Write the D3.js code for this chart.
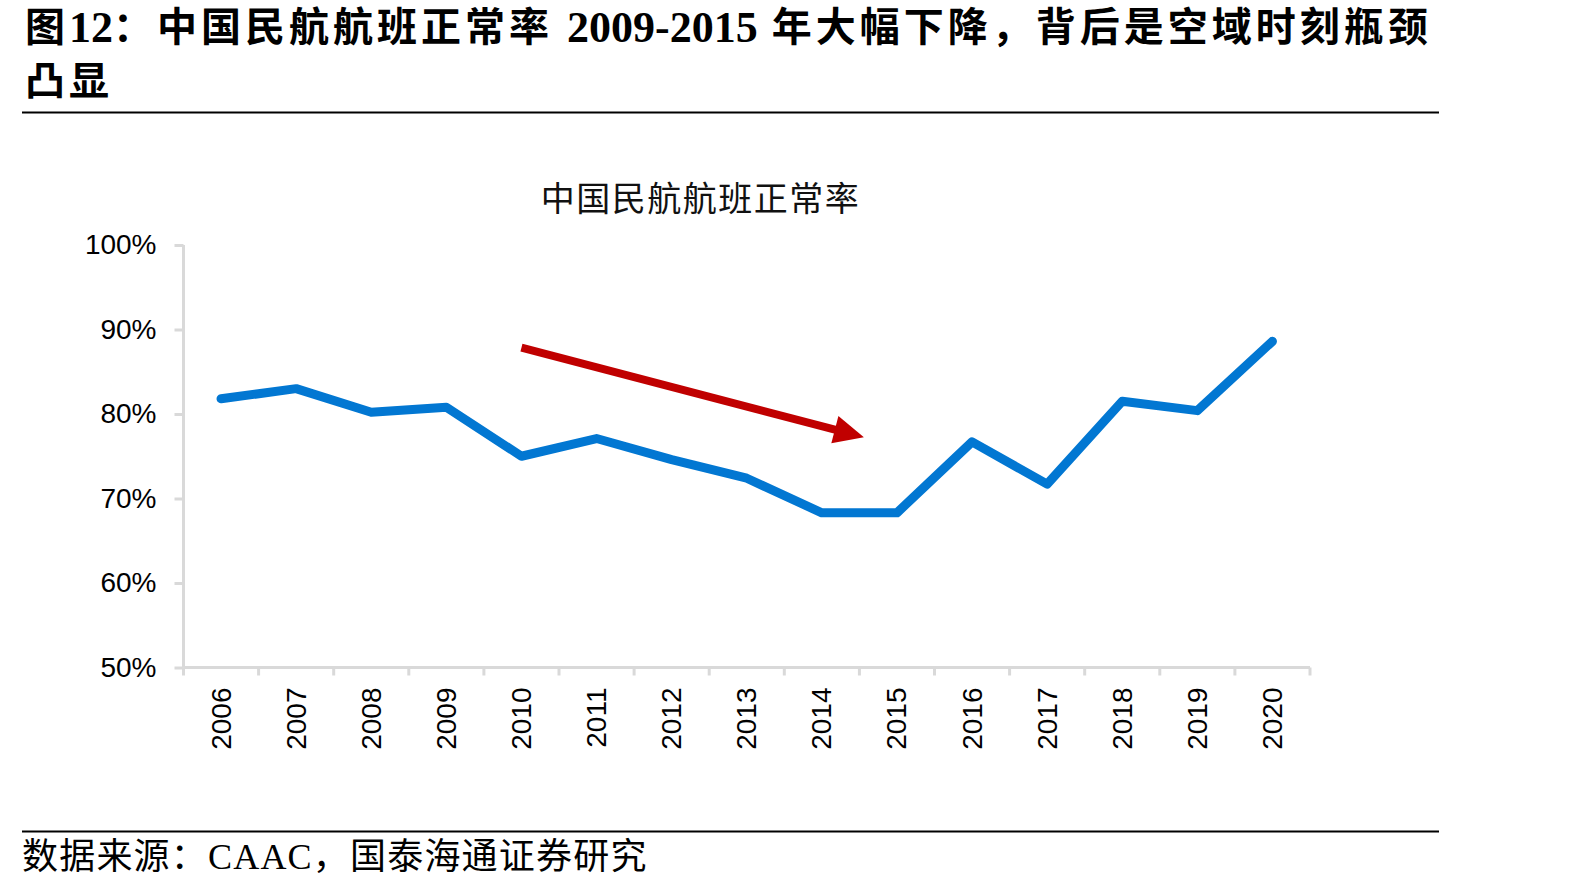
<!DOCTYPE html>
<html lang="zh-CN">
<head>
    <meta charset="UTF-8">
    <title>中国民航航班正常率</title>
    <script src="https://cdn.jsdelivr.net/npm/d3@7"></script>
    <style>
        html, body {
            margin: 0;
            padding: 0;
            background: #fff;
        }

        #chart {
            width: 1594px;
            height: 891px;
        }
    </style>
</head>
<body>
<div id="chart"></div>
<script>
    // 数据
    const years = ["2006", "2007", "2008", "2009", "2010", "2011", "2012", "2013",
        "2014", "2015", "2016", "2017", "2018", "2019", "2020"];
    const onTimeRate = [81.8, 83.0, 80.2, 80.8, 75.0, 77.1, 74.6, 72.4,
        68.3, 68.3, 76.7, 71.7, 81.5, 80.4, 88.6];
    const yTicks = [50, 60, 70, 80, 90, 100];

    // 下降趋势箭头: [年份, 年份内偏移(带宽比例), 数值]
    const arrowFrom = ["2010", 0.5, 87.85];
    const arrowTo = ["2014", 1.06, 77.25];

    // 标题分段: [文字, 是否为西文]
    const headerLine1 = [["图", false], ["12", true], ["：中国民航航班正常率 ", false],
        ["2009-2015", true], [" 年大幅下降，背后是空域时刻瓶颈", false]];
    const headerLine2 = "凸显";
    const chartTitle = "中国民航航班正常率";
    const sourceText = "数据来源：CAAC，国泰海通证券研究";

    const width = 1594, height = 891;
    const cjk = "'Liberation Serif', 'Noto Sans CJK SC', serif";
    const sans = "'Liberation Sans', Arial, sans-serif";

    const svg = d3.select("#chart").append("svg")
        .attr("width", width)
        .attr("height", height)
        .attr("viewBox", [0, 0, width, height]);

    // 标题区
    const h1 = svg.append("text")
        .attr("x", 25)
        .attr("y", 27)
        .attr("dominant-baseline", "central")
        .attr("font-family", cjk)
        .attr("font-weight", "bold")
        .attr("fill", "#000");

    h1.selectAll("tspan")
        .data(headerLine1)
        .join("tspan")
        .attr("font-size", d => d[1] ? 44 : 40)
        .attr("letter-spacing", d => d[1] ? 0 : 4)
        .text(d => d[0]);

    svg.append("text")
        .attr("x", 25)
        .attr("y", 81)
        .attr("dominant-baseline", "central")
        .attr("font-family", cjk)
        .attr("font-weight", "bold")
        .attr("font-size", 40)
        .attr("letter-spacing", 4)
        .attr("fill", "#000")
        .text(headerLine2);

    svg.append("line")
        .attr("x1", 22).attr("x2", 1439)
        .attr("y1", 112.5).attr("y2", 112.5)
        .attr("stroke", "#000").attr("stroke-width", 2);

    svg.append("line")
        .attr("x1", 22).attr("x2", 1439)
        .attr("y1", 831.5).attr("y2", 831.5)
        .attr("stroke", "#000").attr("stroke-width", 2);

    svg.append("text")
        .attr("x", 22)
        .attr("y", 857)
        .attr("dominant-baseline", "central")
        .attr("font-family", cjk)
        .attr("font-size", 36)
        .attr("letter-spacing", 1.2)
        .attr("fill", "#000")
        .text(sourceText);

    // 图表
    const x = d3.scaleBand()
        .domain(years)
        .range([183.5, 1310])
        .padding(0);

    const y = d3.scaleLinear()
        .domain([50, 100])
        .range([667.5, 245]);

    svg.append("text")
        .attr("x", 700.5)
        .attr("y", 199)
        .attr("text-anchor", "middle")
        .attr("dominant-baseline", "central")
        .attr("font-family", cjk)
        .attr("font-size", 34)
        .attr("letter-spacing", 1.5)
        .attr("fill", "#111")
        .text(chartTitle);

    const axisColor = "#d9d9d9";

    const yAxis = svg.append("g")
        .attr("transform", `translate(${x.range()[0]},0)`)
        .call(d3.axisLeft(y).tickValues(yTicks).tickFormat(d => d + "%").tickSize(9).tickPadding(18));

    const xAxis = svg.append("g")
        .attr("transform", `translate(0,${y(50)})`)
        .call(d3.axisBottom(x).tickSize(0).tickFormat(d => d));

    // 类目之间的刻度
    svg.append("g")
        .selectAll("line")
        .data(years.concat(["end"]))
        .join("line")
        .attr("x1", (d, i) => i < years.length ? x(d) : x.range()[1])
        .attr("x2", (d, i) => i < years.length ? x(d) : x.range()[1])
        .attr("y1", y(50))
        .attr("y2", y(50) + 8)
        .attr("stroke", axisColor)
        .attr("stroke-width", 3);

    [yAxis, xAxis].forEach(g => {
        g.select(".domain").attr("stroke", axisColor).attr("stroke-width", 3);
        g.selectAll(".tick line").attr("stroke", axisColor).attr("stroke-width", 3);
        g.selectAll("text")
            .attr("font-family", sans)
            .attr("font-size", 28)
            .attr("fill", "#000");
    });
    yAxis.select(".domain").attr("d", `M0,${y(100)}V${y(50)}`);
    yAxis.selectAll(".tick line").attr("x2", -9);

    xAxis.select(".domain").attr("d", `M${x.range()[0]},0H${x.range()[1]}`);
    xAxis.selectAll(".tick text")
        .attr("transform", "rotate(-90)")
        .attr("text-anchor", "end")
        .attr("dominant-baseline", "central")
        .attr("x", -20)
        .attr("y", 0)
        .attr("dy", null);

    // 折线
    const line = d3.line()
        .x((d, i) => x(years[i]) + x.bandwidth() / 2)
        .y(d => y(d));

    svg.append("path")
        .datum(onTimeRate)
        .attr("d", line)
        .attr("fill", "none")
        .attr("stroke", "#0277d2")
        .attr("stroke-width", 9)
        .attr("stroke-linejoin", "round")
        .attr("stroke-linecap", "round");

    // 箭头
    const ax0 = x(arrowFrom[0]) + arrowFrom[1] * x.bandwidth(), ay0 = y(arrowFrom[2]);
    const ax1 = x(arrowTo[0]) + arrowTo[1] * x.bandwidth(), ay1 = y(arrowTo[2]);
    const ang = Math.atan2(ay1 - ay0, ax1 - ax0);
    const headLen = 30, headHalf = 14;
    const bx = ax1 - headLen * Math.cos(ang), by = ay1 - headLen * Math.sin(ang);
    const nx = -Math.sin(ang), ny = Math.cos(ang);

    svg.append("line")
        .attr("x1", ax0).attr("y1", ay0)
        .attr("x2", bx + 2 * Math.cos(ang)).attr("y2", by + 2 * Math.sin(ang))
        .attr("stroke", "#c00000")
        .attr("stroke-width", 8);

    svg.append("path")
        .attr("d", `M${ax1},${ay1}L${bx + nx * headHalf},${by + ny * headHalf}L${bx - nx * headHalf},${by - ny * headHalf}Z`)
        .attr("fill", "#c00000");
</script>
</body>
</html>
